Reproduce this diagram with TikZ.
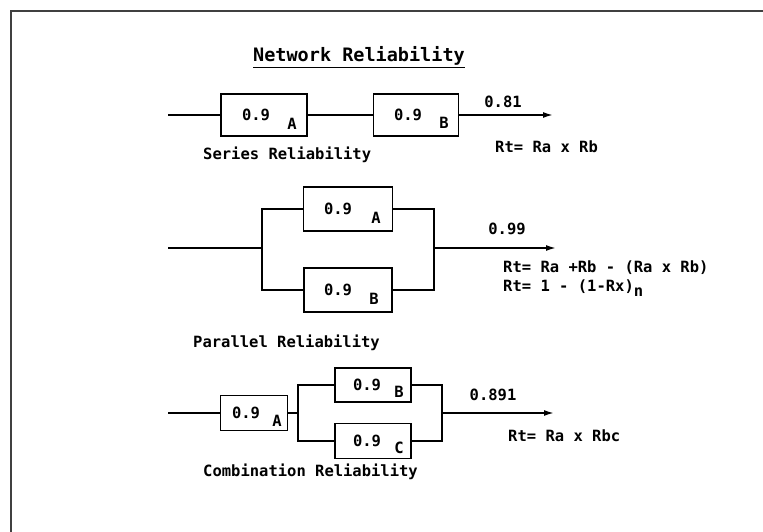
\documentclass[tikz,border=0pt]{standalone}
\usepackage{fontspec}
\newfontfamily\cadfont{DejaVu Sans Mono}
\usetikzlibrary{arrows.meta,positioning,calc}

\begin{document}
\begin{tikzpicture}[
    x=1pt, y=-1pt,
    >={Latex[length=10pt,width=6pt]},
    wire/.style={line width=1.6pt},
    blk/.style={draw, line width=1.6pt, inner sep=0pt},
    txt/.style={font=\cadfont\bfseries\fontsize{15.5}{18}\selectfont, inner sep=0pt},
    ttl/.style={font=\cadfont\bfseries\fontsize{18.5}{22}\selectfont, inner sep=0pt},
]
\useasboundingbox (0,0) rectangle (763,532);

% frame
\draw[line width=1.8pt, black!75] (763,11) -- (11,11) -- (11,532);

\node[ttl] (title) at (359,57) {\underline{Network Reliability}};

% Series
\begin{scope}
    \coordinate (sin) at (168,115);
    \coordinate (sout) at (553,115);
    \node[blk, minimum width=86pt, minimum height=42pt] (sa) at (264,115) {};
    \node[blk, minimum width=85pt, minimum height=42pt] (sb) at (416,115) {};
    \node[txt] at ([xshift=-8pt]sa.center) {0.9};
    \node[txt] at ([xshift=28pt,yshift=-9pt]sa.center) {A};
    \node[txt] at ([xshift=-8pt]sb.center) {0.9};
    \node[txt] at ([xshift=28pt,yshift=-8pt]sb.center) {B};
    \draw[wire] (sin) -- (sa);
    \draw[wire] (sa) -- (sb);
    \draw[wire,->] (sb) -- (sout);
    \node[txt] (sval) at (503,102) {0.81};
    \node[txt, anchor=west] (sfor) at (495,147) {Rt= Ra x Rb};
    \node[txt, anchor=west] (sname) at (203,155) {Series Reliability};
\end{scope}

% Parallel
\begin{scope}
    \coordinate (pin) at (168,248);
    \coordinate (pl) at (262,248);
    \coordinate (pr) at (434,248);
    \coordinate (pout) at (556,248);
    \node[blk, minimum width=89pt, minimum height=44pt] (pa) at (348,209) {};
    \node[blk, minimum width=88pt, minimum height=44pt] (pb) at (348,290) {};
    \node[txt] at ([xshift=-10pt]pa.center) {0.9};
    \node[txt] at ([xshift=28pt,yshift=-9pt]pa.center) {A};
    \node[txt] at ([xshift=-10pt]pb.center) {0.9};
    \node[txt] at ([xshift=26pt,yshift=-9pt]pb.center) {B};
    \draw[wire] (pin) -- (pl);
    \draw[wire] (pa.west) -| (pl) |- (pb.west);
    \draw[wire] (pa.east) -| (pr) |- (pb.east);
    \draw[wire,->] (pr) -- (pout);
    \node[txt] (pval) at (507,229) {0.99};
    \node[txt, anchor=west] (pfor1) at (503,268) {Rt= Ra +Rb - (Ra x Rb)};
    \node[txt, anchor=west] (pfor2) at (503,288) {Rt= 1 - (1-Rx)\raisebox{-0.5ex}{n}};
    \node[txt, anchor=west] (pname) at (193,343) {Parallel Reliability};
\end{scope}

% Combination
\begin{scope}
    \coordinate (cin) at (168,413);
    \coordinate (cl) at (298,413);
    \coordinate (cr) at (442,413);
    \coordinate (cout) at (554,413);
    \node[blk, minimum width=67pt, minimum height=35pt] (ca) at (254,413) {};
    \node[blk, minimum width=76pt, minimum height=34pt] (cb) at (373,385) {};
    \node[blk, minimum width=76pt, minimum height=35pt] (cc) at (373,441) {};
    \node[txt] at ([xshift=-8pt]ca.center) {0.9};
    \node[txt] at ([xshift=23pt,yshift=-8pt]ca.center) {A};
    \node[txt] at ([xshift=-6pt]cb.center) {0.9};
    \node[txt] at ([xshift=26pt,yshift=-7pt]cb.center) {B};
    \node[txt] at ([xshift=-6pt]cc.center) {0.9};
    \node[txt] at ([xshift=26pt,yshift=-7pt]cc.center) {C};
    \draw[wire] (cin) -- (ca);
    \draw[wire] (ca) -- (cl);
    \draw[wire] (cb.west) -| (cl) |- (cc.west);
    \draw[wire] (cb.east) -| (cr) |- (cc.east);
    \draw[wire,->] (cr) -- (cout);
    \node[txt] (cval) at (493,395) {0.891};
    \node[txt, anchor=west] (cfor) at (508,436) {Rt= Ra x Rbc};
    \node[txt, anchor=west] (cname) at (203,472) {Combination Reliability};
\end{scope}

\end{tikzpicture}
\end{document}
